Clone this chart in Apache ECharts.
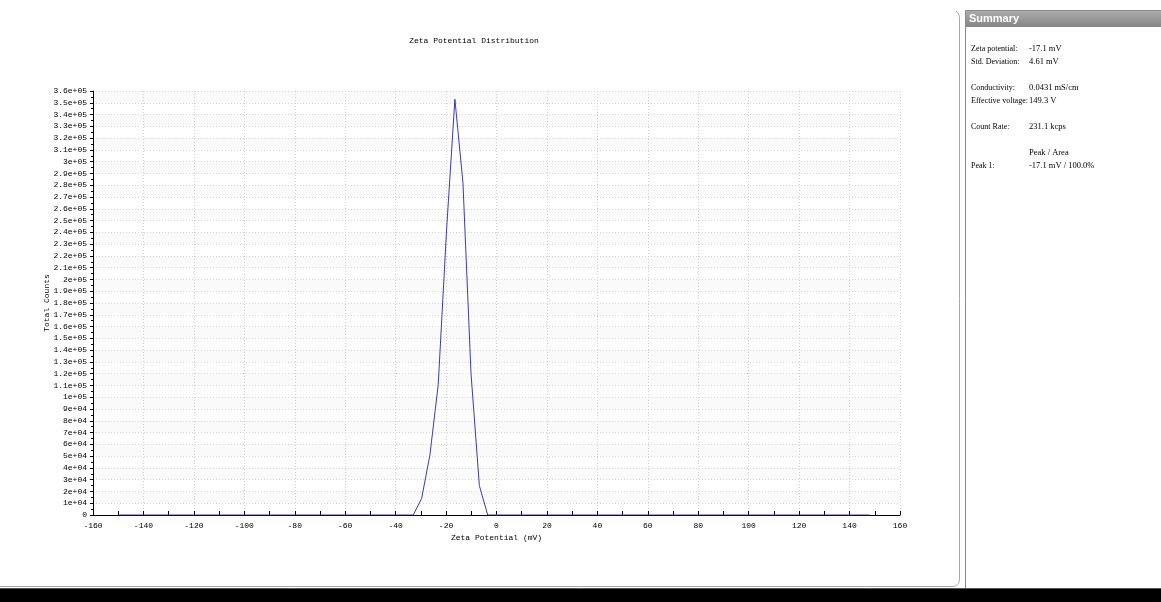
<!DOCTYPE html>
<html>
<head>
<meta charset="utf-8">
<title>Zeta Potential Distribution</title>
<script src="https://cdn.jsdelivr.net/npm/echarts@6/dist/echarts.min.js"></script>
<style>
  html, body { margin: 0; padding: 0; background: #fff; }
  #chart { width: 1161px; height: 602px; }
</style>
</head>
<body>
<div id="chart"></div>
<script>
// Measured distribution: zeta potential (mV) vs. total counts
const zetaMv = [-150, -33.0, -29.7, -26.4, -23.1, -19.8, -16.5, -13.3, -10.1, -6.8, -3.5, 148];
const totalCounts = [0, 0, 14000, 51000, 111000, 242000, 353000, 282000, 120000, 25000, 0, 0];

// Axis ranges and steps
const xRange = [-160, 160];
const xStep = 20;
const yRange = [0, 360000];
const yStep = 10000;

// Summary panel contents
const summaryLabels = ['Zeta potential:', 'Std. Deviation:', 'Conductivity:', 'Effective voltage:', 'Count Rate:', '', 'Peak 1:'];
const summaryValues = ['-17.1 mV', '4.61 mV', '0.0431 mS/cm', '149.3 V', '231.1 kcps', 'Peak / Area', '-17.1 mV / 100.0%'];

// Layout of the summary rows (pixel rows)
const summaryRowY = [49, 62, 88, 101, 127, 153, 166];

const MONO = "'Liberation Mono', 'DejaVu Sans Mono', monospace";
const SERIF = "'Liberation Serif', 'DejaVu Serif', serif";

function sciLabel(v) {
  if (v === 0) return '0';
  const e = Math.floor(Math.log10(v) + 1e-9);
  const m = parseFloat((v / Math.pow(10, e)).toFixed(2));
  return m + 'e+' + (e < 10 ? '0' + e : e);
}

const chart = echarts.init(document.getElementById('chart'), null, { renderer: 'canvas' });

const frameStroke = { fill: null, stroke: '#a8a8a8', lineWidth: 1 };
const graphics = [];
// outer frame of the plot pane with rounded corners
graphics.push({ type: 'line', silent: true,
  shape: { x1: 0, y1: 586.5, x2: 952, y2: 586.5 }, style: frameStroke });
graphics.push({ type: 'bezierCurve', silent: true,
  shape: { x1: 952, y1: 586.5, cpx1: 959.5, cpy1: 586.5, x2: 959.5, y2: 579 }, style: frameStroke });
graphics.push({ type: 'line', silent: true,
  shape: { x1: 959.5, y1: 579, x2: 959.5, y2: 18 }, style: frameStroke });
graphics.push({ type: 'bezierCurve', silent: true,
  shape: { x1: 959.5, y1: 18, cpx1: 959.5, cpy1: 13, x2: 956, y2: 11 }, style: frameStroke });
// summary pane
graphics.push({
  type: 'rect', silent: true,
  shape: { x: 965.5, y: 10.5, width: 200, height: 578 },
  style: { fill: '#fff', stroke: '#8a8a8a', lineWidth: 1 }
});
graphics.push({
  type: 'rect', silent: true,
  shape: { x: 966, y: 11, width: 195, height: 16 },
  style: {
    fill: new echarts.graphic.LinearGradient(0, 0, 0, 1, [
      { offset: 0, color: '#ababab' },
      { offset: 1, color: '#858585' }
    ])
  }
});
graphics.push({
  type: 'text', silent: true, x: 969, y: 19,
  style: { text: 'Summary', fill: '#fff', font: "bold 11px 'Liberation Sans', Arial, sans-serif", verticalAlign: 'middle' }
});
summaryLabels.forEach(function (t, i) {
  if (t) {
    graphics.push({ type: 'text', silent: true, x: 971, y: summaryRowY[i],
      style: { text: t, fill: '#000', font: '8px ' + SERIF, verticalAlign: 'middle' } });
  }
  graphics.push({ type: 'text', silent: true, x: 1029, y: summaryRowY[i],
    style: { text: summaryValues[i], fill: '#000', font: '8.5px ' + SERIF, verticalAlign: 'middle' } });
});
// window bottom edge
graphics.push({
  type: 'line', silent: true,
  shape: { x1: 0, y1: 588.5, x2: 1161, y2: 588.5 },
  style: { stroke: '#555', lineWidth: 1 }
});
graphics.push({
  type: 'rect', silent: true,
  shape: { x: 0, y: 589, width: 1161, height: 13 },
  style: { fill: '#000' }
});

chart.setOption({
  animation: false,
  backgroundColor: '#fff',
  title: {
    text: 'Zeta Potential Distribution',
    left: 469, top: 32, textAlign: 'center',
    textStyle: { fontFamily: MONO, fontSize: 8, fontWeight: 'normal', color: '#000' }
  },
  grid: { left: 93, right: 261, top: 91, bottom: 87, containLabel: false, outerBoundsMode: 'none' },
  xAxis: {
    type: 'value',
    min: xRange[0], max: xRange[1], interval: xStep,
    name: 'Zeta Potential (mV)', nameLocation: 'middle', nameGap: 19, nameMoveOverlap: false,
    nameTextStyle: { fontFamily: MONO, fontSize: 8, color: '#000' },
    axisLine: { onZero: false, lineStyle: { color: '#000', width: 1 } },
    axisTick: { inside: true, length: 4, lineStyle: { color: '#000' } },
    minorTick: { show: true, splitNumber: 2, length: 4, lineStyle: { color: '#000' } },
    axisLabel: { fontFamily: MONO, fontSize: 8, color: '#000', margin: 7 },
    splitLine: { show: true, lineStyle: { color: '#cfcfcf', type: [1, 2], width: 1 } }
  },
  yAxis: {
    type: 'value',
    min: yRange[0], max: yRange[1], interval: yStep,
    name: 'Total Counts', nameLocation: 'middle', nameGap: 42, nameRotate: 90, nameMoveOverlap: false,
    nameTextStyle: { fontFamily: MONO, fontSize: 8, color: '#000' },
    axisLine: { show: true, onZero: false, lineStyle: { color: '#000', width: 1 } },
    axisTick: { show: true, inside: false, length: 3, lineStyle: { color: '#000' } },
    minorTick: { show: true, splitNumber: 2, length: 2, lineStyle: { color: '#000' } },
    axisLabel: { fontFamily: MONO, fontSize: 8, color: '#000', margin: 6, formatter: sciLabel },
    splitLine: { show: true, lineStyle: { color: '#d4d4d4', type: [1, 2], width: 1 } },
    splitArea: { show: true, areaStyle: { color: ['rgba(0,0,0,0)', 'rgba(0,0,0,0.02)'] } }
  },
  series: [{
    type: 'line',
    data: zetaMv.map(function (x, i) { return [x, totalCounts[i]]; }),
    showSymbol: false,
    symbol: 'none',
    lineStyle: { color: '#3b3bb0', width: 1 },
    z: 5
  }],
  graphic: graphics
});
</script>
</body>
</html>
